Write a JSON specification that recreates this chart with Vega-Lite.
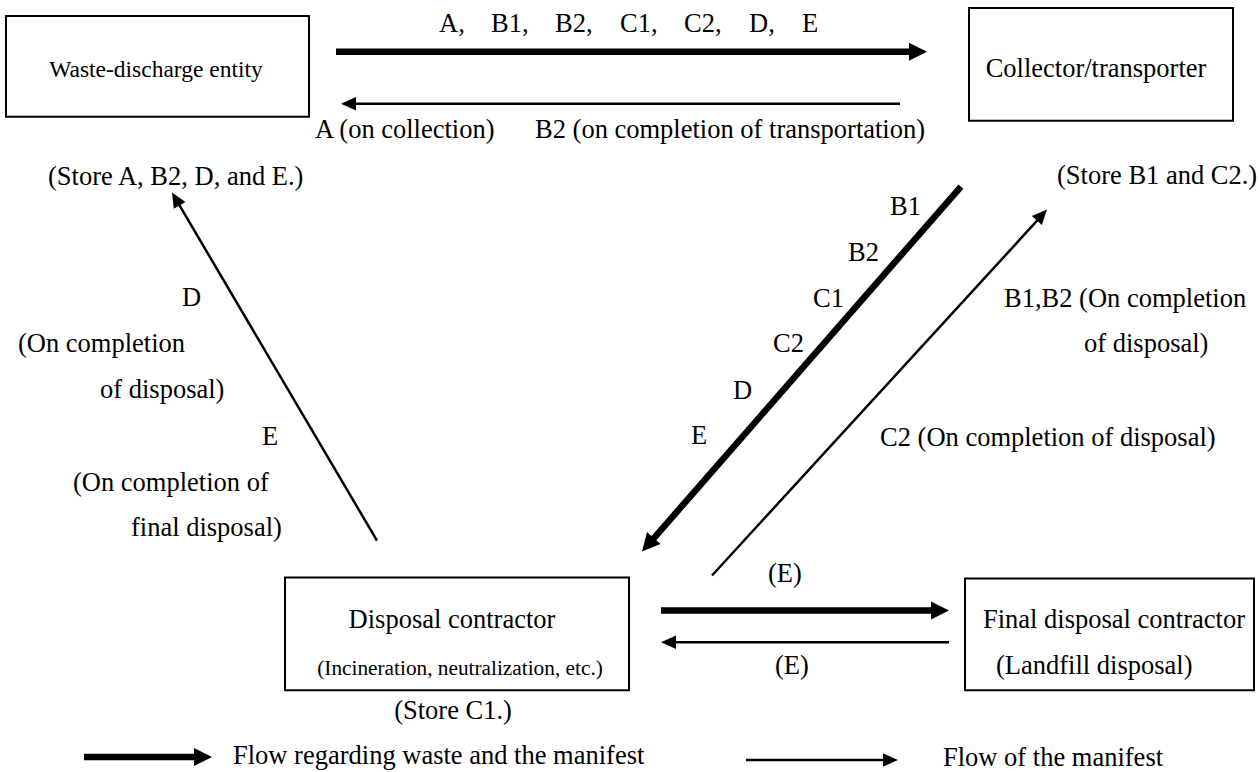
{
  "$schema": "https://vega.github.io/schema/vega-lite/v6.json",
  "width": 1260,
  "height": 772,
  "autosize": {"type": "fit", "contains": "padding"},
  "padding": 0,
  "background": "white",
  "config": {"view": {"stroke": null}},
  "datasets": {
    "boxes": [
      {"name": "waste", "x": 6, "x2": 309, "y": 16, "y2": 117},
      {"name": "collector", "x": 969, "x2": 1233, "y": 8, "y2": 121},
      {"name": "disposal", "x": 285, "x2": 629, "y": 579, "y2": 692},
      {"name": "final", "x": 965, "x2": 1254, "y": 580, "y2": 692}
    ],
    "arrows": [
      {"kind": "thick", "x": 336, "y": 52, "x2": 915, "y2": 52, "tx": 927, "ty": 52, "dir": "right"},
      {"kind": "thick", "x": 961, "y": 187, "x2": 650, "y2": 544, "tx": 642, "ty": 553, "dir": "downleft"},
      {"kind": "thick", "x": 661, "y": 612, "x2": 937, "y2": 612, "tx": 949, "ty": 612, "dir": "right"},
      {"kind": "thick", "x": 84, "y": 759, "x2": 200, "y2": 759, "tx": 212, "ty": 759, "dir": "right"},
      {"kind": "thin", "x": 900, "y": 104, "x2": 350, "y2": 104, "tx": 341, "ty": 104, "dir": "left"},
      {"kind": "thin", "x": 712, "y": 577, "x2": 1041, "y2": 217, "tx": 1047, "ty": 210, "dir": "upright"},
      {"kind": "thin", "x": 377, "y": 542, "x2": 176, "y2": 200, "tx": 172, "ty": 193, "dir": "upleft"},
      {"kind": "thin", "x": 949, "y": 644, "x2": 670, "y2": 644, "tx": 661, "ty": 644, "dir": "left"},
      {"kind": "thin", "x": 746, "y": 762, "x2": 889, "y2": 762, "tx": 898, "ty": 762, "dir": "right"}
    ],
    "labels": [
      {"text": "A,", "x": 439, "y": 32},
      {"text": "B1,", "x": 491, "y": 32},
      {"text": "B2,", "x": 555, "y": 32},
      {"text": "C1,", "x": 620, "y": 32},
      {"text": "C2,", "x": 684, "y": 32},
      {"text": "D,", "x": 749, "y": 32},
      {"text": "E", "x": 802, "y": 32},
      {"text": "A (on collection)", "x": 315, "y": 138},
      {"text": "B2 (on completion of transportation)", "x": 535, "y": 138},
      {"text": "(Store A, B2, D, and E.)", "x": 48, "y": 185},
      {"text": "(Store B1 and C2.)", "x": 1057, "y": 184},
      {"text": "B1", "x": 890, "y": 216},
      {"text": "B2", "x": 848, "y": 262},
      {"text": "C1", "x": 813, "y": 308},
      {"text": "C2", "x": 773, "y": 353},
      {"text": "D", "x": 733, "y": 400},
      {"text": "E", "x": 691, "y": 445},
      {"text": "D", "x": 182, "y": 307},
      {"text": "(On completion", "x": 18, "y": 353},
      {"text": "of disposal)", "x": 100, "y": 399},
      {"text": "E", "x": 262, "y": 446},
      {"text": "(On completion of", "x": 73, "y": 492},
      {"text": "final disposal)", "x": 131, "y": 537},
      {"text": "B1,B2 (On completion", "x": 1004, "y": 308},
      {"text": "of disposal)", "x": 1084, "y": 353},
      {"text": "C2 (On completion of disposal)", "x": 880, "y": 447},
      {"text": "(E)", "x": 768, "y": 584},
      {"text": "(E)", "x": 775, "y": 676},
      {"text": "Final disposal contractor", "x": 983, "y": 630},
      {"text": "(Landfill disposal)", "x": 996, "y": 676},
      {"text": "Flow regarding waste and the manifest", "x": 233, "y": 766},
      {"text": "Flow of the manifest", "x": 943, "y": 768}
    ],
    "centered": [
      {"text": "Waste-discharge entity", "x": 156, "y": 77, "group": "entity"},
      {"text": "Collector/transporter", "x": 1096, "y": 77, "group": "main"},
      {"text": "Disposal contractor", "x": 452, "y": 630, "group": "main"},
      {"text": "(Incineration, neutralization, etc.)", "x": 460, "y": 677, "group": "note"},
      {"text": "(Store C1.)", "x": 453, "y": 721, "group": "main"}
    ]
  },
  "layer": [
    {
      "data": {"name": "boxes"},
      "mark": {"type": "rect", "fill": "white", "stroke": "black", "strokeWidth": 2},
      "encoding": {
        "x": {"field": "x", "type": "quantitative", "scale": {"domain": [0, 1260], "nice": false, "zero": false}, "axis": null},
        "x2": {"field": "x2"},
        "y": {"field": "y", "type": "quantitative", "scale": {"domain": [0, 772], "nice": false, "zero": false, "reverse": true}, "axis": null},
        "y2": {"field": "y2"}
      }
    },
    {
      "data": {"name": "arrows"},
      "transform": [{"filter": "datum.kind === 'thick'"}],
      "mark": {"type": "rule", "color": "black", "strokeWidth": 6.5, "strokeCap": "butt"},
      "encoding": {
        "x": {"field": "x", "type": "quantitative", "scale": {"domain": [0, 1260], "nice": false, "zero": false}, "axis": null},
        "x2": {"field": "x2"},
        "y": {"field": "y", "type": "quantitative", "scale": {"domain": [0, 772], "nice": false, "zero": false, "reverse": true}, "axis": null},
        "y2": {"field": "y2"}
      }
    },
    {
      "data": {"name": "arrows"},
      "transform": [{"filter": "datum.kind === 'thin'"}],
      "mark": {"type": "rule", "color": "black", "strokeWidth": 2.5, "strokeCap": "butt"},
      "encoding": {
        "x": {"field": "x", "type": "quantitative", "scale": {"domain": [0, 1260], "nice": false, "zero": false}, "axis": null},
        "x2": {"field": "x2"},
        "y": {"field": "y", "type": "quantitative", "scale": {"domain": [0, 772], "nice": false, "zero": false, "reverse": true}, "axis": null},
        "y2": {"field": "y2"}
      }
    },
    {
      "data": {"name": "arrows"},
      "transform": [{"filter": "datum.kind === 'thick'"}],
      "mark": {"type": "point", "filled": true, "color": "black", "opacity": 1, "shape": "M0,0L0.5,1L-0.5,1Z", "size": 1296, "strokeWidth": 0},
      "encoding": {
        "x": {"field": "tx", "type": "quantitative", "scale": {"domain": [0, 1260], "nice": false, "zero": false}, "axis": null},
        "y": {"field": "ty", "type": "quantitative", "scale": {"domain": [0, 772], "nice": false, "zero": false, "reverse": true}, "axis": null},
        "angle": {"field": "dir", "type": "nominal", "scale": {"type": "ordinal", "domain": ["right", "left", "downleft", "upright", "upleft"], "range": [90, 270, 221, 42.4, 329.5]}, "legend": null}
      }
    },
    {
      "data": {"name": "arrows"},
      "transform": [{"filter": "datum.kind === 'thin'"}],
      "mark": {"type": "point", "filled": true, "color": "black", "opacity": 1, "shape": "M0,0L0.45,1L-0.45,1Z", "size": 900, "strokeWidth": 0},
      "encoding": {
        "x": {"field": "tx", "type": "quantitative", "scale": {"domain": [0, 1260], "nice": false, "zero": false}, "axis": null},
        "y": {"field": "ty", "type": "quantitative", "scale": {"domain": [0, 772], "nice": false, "zero": false, "reverse": true}, "axis": null},
        "angle": {"field": "dir", "type": "nominal", "scale": {"type": "ordinal", "domain": ["right", "left", "downleft", "upright", "upleft"], "range": [90, 270, 221, 42.4, 329.5]}, "legend": null}
      }
    },
    {
      "data": {"name": "labels"},
      "mark": {"type": "text", "align": "left", "baseline": "alphabetic", "font": "Liberation Serif", "fontSize": 26.5, "color": "black"},
      "encoding": {
        "x": {"field": "x", "type": "quantitative", "scale": {"domain": [0, 1260], "nice": false, "zero": false}, "axis": null},
        "y": {"field": "y", "type": "quantitative", "scale": {"domain": [0, 772], "nice": false, "zero": false, "reverse": true}, "axis": null},
        "text": {"field": "text"}
      }
    },
    {
      "data": {"name": "centered"},
      "mark": {"type": "text", "align": "center", "baseline": "alphabetic", "font": "Liberation Serif", "color": "black"},
      "encoding": {
        "x": {"field": "x", "type": "quantitative", "scale": {"domain": [0, 1260], "nice": false, "zero": false}, "axis": null},
        "y": {"field": "y", "type": "quantitative", "scale": {"domain": [0, 772], "nice": false, "zero": false, "reverse": true}, "axis": null},
        "text": {"field": "text"},
        "size": {"field": "group", "type": "nominal", "scale": {"type": "ordinal", "domain": ["main", "entity", "note"], "range": [26.5, 23.5, 21.3]}, "legend": null}
      }
    }
  ]
}
